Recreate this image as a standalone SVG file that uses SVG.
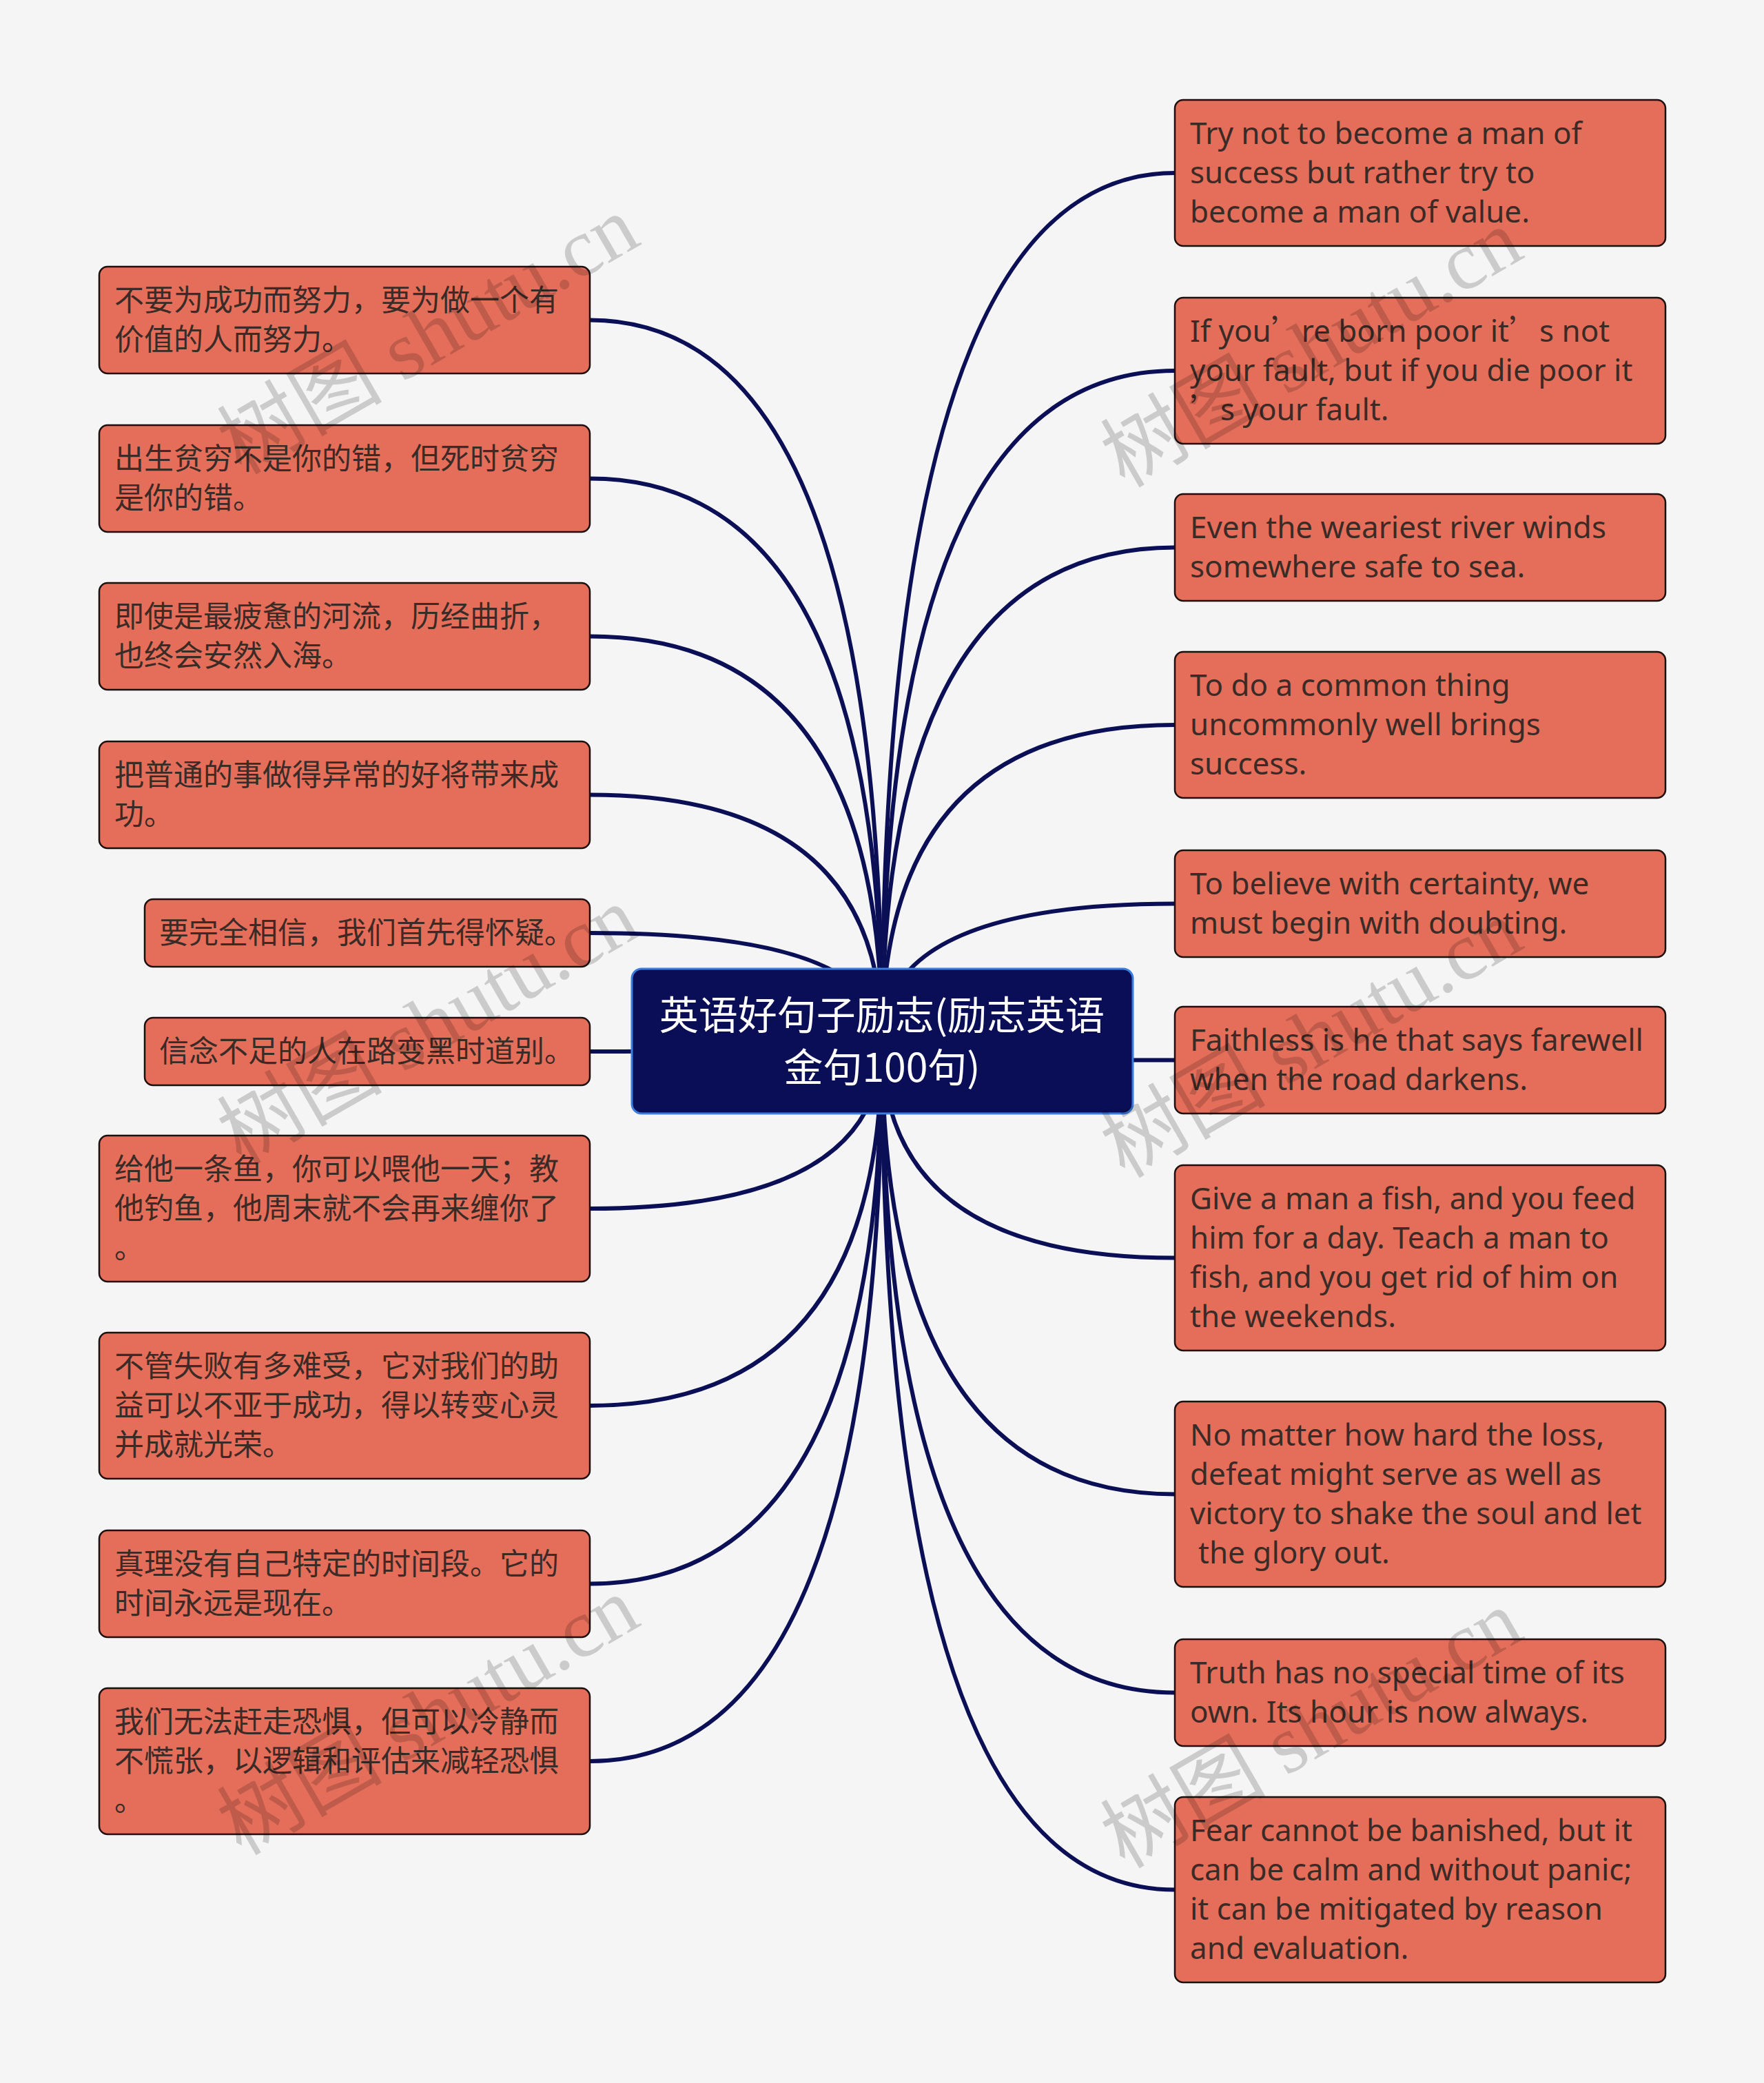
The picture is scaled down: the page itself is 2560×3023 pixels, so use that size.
<svg xmlns="http://www.w3.org/2000/svg" width="2560" height="3023" viewBox="0 0 2560 3023">
<style>
.bg{fill:#f5f5f5}
.box{fill:#e56e5a;stroke:#1e0f0f;stroke-width:2.5}
.t{font-family:"Noto Sans","Noto Sans CJK SC",sans-serif;font-size:44px;fill:#3b2b27}
.cn{font-family:"Noto Sans CJK SC",sans-serif;font-size:43px;fill:#3b2b27}
.q{font-family:"Noto Sans CJK SC",sans-serif}
.link{fill:none;stroke:#0b0f55;stroke-width:6}
.rootbox{fill:#0a0e57;stroke:#3b7ddd;stroke-width:3}
.roottext{font-family:"Noto Sans CJK SC",sans-serif;font-size:57px;fill:#ffffff;text-anchor:middle}
.wm{font-size:120px;fill:#000;fill-opacity:0.17}
.wmc{font-family:"Noto Sans CJK SC",sans-serif}
.wms{font-family:"Liberation Serif",serif}
</style>
<rect class="bg" x="0" y="0" width="2560" height="3023"/>
<g id="connectors">
<path class="link" d="M1280,1511 Q1280,464.5 856,464.5"/>
<path class="link" d="M1280,1511 Q1280,694.5 856,694.5"/>
<path class="link" d="M1280,1511 Q1280,923.5 856,923.5"/>
<path class="link" d="M1280,1511 Q1280,1153.5 856,1153.5"/>
<path class="link" d="M1280,1511 Q1280,1354 856,1354"/>
<path class="link" d="M1280,1511 Q1280,1526 856,1526"/>
<path class="link" d="M1280,1511 Q1280,1754 856,1754"/>
<path class="link" d="M1280,1511 Q1280,2040 856,2040"/>
<path class="link" d="M1280,1511 Q1280,2298.5 856,2298.5"/>
<path class="link" d="M1280,1511 Q1280,2556 856,2556"/>
<path class="link" d="M1280,1511 Q1280,251 1705,251"/>
<path class="link" d="M1280,1511 Q1280,538 1705,538"/>
<path class="link" d="M1280,1511 Q1280,794.5 1705,794.5"/>
<path class="link" d="M1280,1511 Q1280,1052 1705,1052"/>
<path class="link" d="M1280,1511 Q1280,1311.5 1705,1311.5"/>
<path class="link" d="M1280,1511 Q1280,1538.5 1705,1538.5"/>
<path class="link" d="M1280,1511 Q1280,1825.5 1705,1825.5"/>
<path class="link" d="M1280,1511 Q1280,2168.5 1705,2168.5"/>
<path class="link" d="M1280,1511 Q1280,2456.5 1705,2456.5"/>
<path class="link" d="M1280,1511 Q1280,2742.5 1705,2742.5"/>
</g>
<g id="root">
<rect class="rootbox" x="917" y="1406" width="727" height="210" rx="14"/>
<text class="roottext" x="1280" y="1494">英语好句子励志(励志英语</text>
<text class="roottext" x="1280" y="1570">金句100句)</text>
</g>
<g id="L1"><rect class="box" x="144" y="387" width="712" height="155" rx="12"/>
<text class="cn" x="166" y="450.5">不要为成功而努力，要为做一个有</text>
<text class="cn" x="166" y="507.5">价值的人而努力。</text></g>
<g id="L2"><rect class="box" x="144" y="617" width="712" height="155" rx="12"/>
<text class="cn" x="166" y="680.5">出生贫穷不是你的错，但死时贫穷</text>
<text class="cn" x="166" y="737.5">是你的错。</text></g>
<g id="L3"><rect class="box" x="144" y="846" width="712" height="155" rx="12"/>
<text class="cn" x="166" y="909.5">即使是最疲惫的河流，历经曲折，</text>
<text class="cn" x="166" y="966.5">也终会安然入海。</text></g>
<g id="L4"><rect class="box" x="144" y="1076" width="712" height="155" rx="12"/>
<text class="cn" x="166" y="1139.5">把普通的事做得异常的好将带来成</text>
<text class="cn" x="166" y="1196.5">功。</text></g>
<g id="L5"><rect class="box" x="210" y="1305" width="646" height="98" rx="12"/>
<text class="cn" x="231" y="1368.5">要完全相信，我们首先得怀疑。</text></g>
<g id="L6"><rect class="box" x="210" y="1477" width="646" height="98" rx="12"/>
<text class="cn" x="231" y="1540.5">信念不足的人在路变黑时道别。</text></g>
<g id="L7"><rect class="box" x="144" y="1648" width="712" height="212" rx="12"/>
<text class="cn" x="166" y="1711.5">给他一条鱼，你可以喂他一天；教</text>
<text class="cn" x="166" y="1768.5">他钓鱼，他周末就不会再来缠你了</text>
<text class="cn" x="166" y="1825.5">。</text></g>
<g id="L8"><rect class="box" x="144" y="1934" width="712" height="212" rx="12"/>
<text class="cn" x="166" y="1997.5">不管失败有多难受，它对我们的助</text>
<text class="cn" x="166" y="2054.5">益可以不亚于成功，得以转变心灵</text>
<text class="cn" x="166" y="2111.5">并成就光荣。</text></g>
<g id="L9"><rect class="box" x="144" y="2221" width="712" height="155" rx="12"/>
<text class="cn" x="166" y="2284.5">真理没有自己特定的时间段。它的</text>
<text class="cn" x="166" y="2341.5">时间永远是现在。</text></g>
<g id="L10"><rect class="box" x="144" y="2450" width="712" height="212" rx="12"/>
<text class="cn" x="166" y="2513.5">我们无法赶走恐惧，但可以冷静而</text>
<text class="cn" x="166" y="2570.5">不慌张，以逻辑和评估来减轻恐惧</text>
<text class="cn" x="166" y="2627.5">。</text></g>
<g id="R1"><rect class="box" x="1705" y="145" width="712" height="212" rx="12"/>
<text class="t" x="1727" y="208.5">Try not to become a man of</text>
<text class="t" x="1727" y="265.5">success but rather try to</text>
<text class="t" x="1727" y="322.5">become a man of value.</text></g>
<g id="R2"><rect class="box" x="1705" y="432" width="712" height="212" rx="12"/>
<text class="t" x="1727" y="495.5">If you<tspan class="q">’</tspan>re born poor it<tspan class="q">’</tspan>s not</text>
<text class="t" x="1727" y="552.5">your fault, but if you die poor it</text>
<text class="t" x="1727" y="609.5"><tspan class="q">’</tspan>s your fault.</text></g>
<g id="R3"><rect class="box" x="1705" y="717" width="712" height="155" rx="12"/>
<text class="t" x="1727" y="780.5">Even the weariest river winds</text>
<text class="t" x="1727" y="837.5">somewhere safe to sea.</text></g>
<g id="R4"><rect class="box" x="1705" y="946" width="712" height="212" rx="12"/>
<text class="t" x="1727" y="1009.5">To do a common thing</text>
<text class="t" x="1727" y="1066.5">uncommonly well brings</text>
<text class="t" x="1727" y="1123.5">success.</text></g>
<g id="R5"><rect class="box" x="1705" y="1234" width="712" height="155" rx="12"/>
<text class="t" x="1727" y="1297.5">To believe with certainty, we</text>
<text class="t" x="1727" y="1354.5">must begin with doubting.</text></g>
<g id="R6"><rect class="box" x="1705" y="1461" width="712" height="155" rx="12"/>
<text class="t" x="1727" y="1524.5">Faithless is he that says farewell</text>
<text class="t" x="1727" y="1581.5">when the road darkens.</text></g>
<g id="R7"><rect class="box" x="1705" y="1691" width="712" height="269" rx="12"/>
<text class="t" x="1727" y="1754.5">Give a man a fish, and you feed</text>
<text class="t" x="1727" y="1811.5">him for a day. Teach a man to</text>
<text class="t" x="1727" y="1868.5">fish, and you get rid of him on</text>
<text class="t" x="1727" y="1925.5">the weekends.</text></g>
<g id="R8"><rect class="box" x="1705" y="2034" width="712" height="269" rx="12"/>
<text class="t" x="1727" y="2097.5">No matter how hard the loss,</text>
<text class="t" x="1727" y="2154.5">defeat might serve as well as</text>
<text class="t" x="1727" y="2211.5">victory to shake the soul and let</text>
<text class="t" x="1739" y="2268.5">the glory out.</text></g>
<g id="R9"><rect class="box" x="1705" y="2379" width="712" height="155" rx="12"/>
<text class="t" x="1727" y="2442.5">Truth has no special time of its</text>
<text class="t" x="1727" y="2499.5">own. Its hour is now always.</text></g>
<g id="R10"><rect class="box" x="1705" y="2608" width="712" height="269" rx="12"/>
<text class="t" x="1727" y="2671.5">Fear cannot be banished, but it</text>
<text class="t" x="1727" y="2728.5">can be calm and without panic;</text>
<text class="t" x="1727" y="2785.5">it can be mitigated by reason</text>
<text class="t" x="1727" y="2842.5">and evaluation.</text></g>
<g id="watermarks">
<text class="wm" transform="translate(350,690) rotate(-30)"><tspan class="wmc">树图</tspan><tspan class="wms"> shutu.cn</tspan></text>
<text class="wm" transform="translate(350,1692) rotate(-30)"><tspan class="wmc">树图</tspan><tspan class="wms"> shutu.cn</tspan></text>
<text class="wm" transform="translate(350,2694) rotate(-30)"><tspan class="wmc">树图</tspan><tspan class="wms"> shutu.cn</tspan></text>
<text class="wm" transform="translate(1632,709) rotate(-30)"><tspan class="wmc">树图</tspan><tspan class="wms"> shutu.cn</tspan></text>
<text class="wm" transform="translate(1632,1711) rotate(-30)"><tspan class="wmc">树图</tspan><tspan class="wms"> shutu.cn</tspan></text>
<text class="wm" transform="translate(1632,2713) rotate(-30)"><tspan class="wmc">树图</tspan><tspan class="wms"> shutu.cn</tspan></text>
</g>
</svg>
